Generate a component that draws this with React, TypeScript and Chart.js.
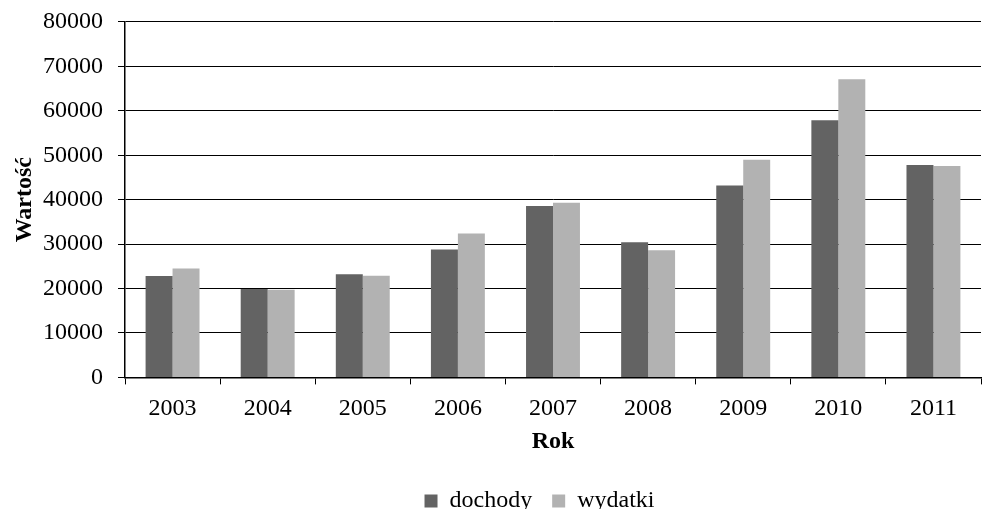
import { useEffect, useRef } from 'react';
import { Chart, registerables } from 'chart.js';

Chart.register(...registerables);

const lata = ['2003', '2004', '2005', '2006', '2007', '2008', '2009', '2010', '2011'];
const dochody = [22800, 19900, 23200, 28800, 38600, 30400, 43200, 57900, 47800];
const wydatki = [24500, 19700, 22900, 32400, 39300, 28600, 49000, 67100, 47600];

const FONT = '"Liberation Serif", "Times New Roman", serif';
const SIZE = 24;

// Excel centres the legend a bit right of the canvas middle and sits it low
const legendShift = {
  id: 'legendShift',
  afterLayout(chart: any) {
    if (chart.legend) {
      chart.legend.left = 98;
      chart.legend.top = 469;
      chart.legend.bottom = 509;
    }
  },
};

const App = () => {
  const chartRef = useRef<HTMLCanvasElement | null>(null);
  const chartInstanceRef = useRef<Chart | null>(null);

  useEffect(() => {
    document.body.style.margin = '0';
    if (!chartRef.current) return;
    const ctx = chartRef.current.getContext('2d');
    if (!ctx) return;
    if (chartInstanceRef.current) {
      chartInstanceRef.current.destroy();
    }
    chartInstanceRef.current = new Chart(ctx, {
      type: 'bar',
      data: {
        labels: lata,
        datasets: [
          {
            label: 'dochody',
            data: dochody,
            backgroundColor: '#636363',
            categoryPercentage: 0.567,
            barPercentage: 1,
          },
          {
            label: 'wydatki',
            data: wydatki,
            backgroundColor: '#b2b2b2',
            categoryPercentage: 0.567,
            barPercentage: 1,
          },
        ],
      },
      options: {
        animation: false,
        responsive: true,
        maintainAspectRatio: false,
        layout: { padding: { top: 0, right: 1, left: 10, bottom: 4 } },
        scales: {
          x: {
            offset: true,
            grid: {
              offset: true,
              drawOnChartArea: false,
              drawTicks: true,
              tickLength: 7,
              color: '#000',
            },
            border: { color: '#000', width: 1.5 },
            ticks: {
              color: '#000',
              font: { family: FONT, size: SIZE, lineHeight: 0.7 },
              padding: 16,
            },
            title: {
              display: true,
              text: 'Rok',
              color: '#000',
              font: { family: FONT, size: SIZE, weight: 'bold', lineHeight: 0.7 },
              padding: { top: 0, bottom: 1 },
            },
          },
          y: {
            min: 0,
            max: 80000,
            afterFit: (scale: any) => {
              scale.width = 115;
            },
            ticks: {
              stepSize: 10000,
              color: '#000',
              font: { family: FONT, size: SIZE, lineHeight: 0.58 },
              padding: 15,
              callback: (v: any) => String(v),
            },
            grid: { color: '#000', tickLength: 7, lineWidth: 1 },
            border: { color: '#000', width: 1.5 },
            title: {
              display: true,
              text: 'Wartość',
              color: '#000',
              font: { family: FONT, size: SIZE, weight: 'bold' },
              padding: { top: 0, bottom: 0 },
            },
          },
        },
        plugins: {
          legend: {
            position: 'bottom',
            labels: {
              boxWidth: 13,
              boxHeight: 13,
              color: '#000',
              font: { family: FONT, size: SIZE },
              padding: 20,
            },
          },
          tooltip: { enabled: false },
        },
      },
      plugins: [legendShift],
    });
    return () => {
      if (chartInstanceRef.current) {
        chartInstanceRef.current.destroy();
        chartInstanceRef.current = null;
      }
    };
  }, []);

  return (
    <div style={{ position: 'relative', width: 982, height: 509 }}>
      <canvas ref={chartRef}></canvas>
    </div>
  );
};

export default App;
